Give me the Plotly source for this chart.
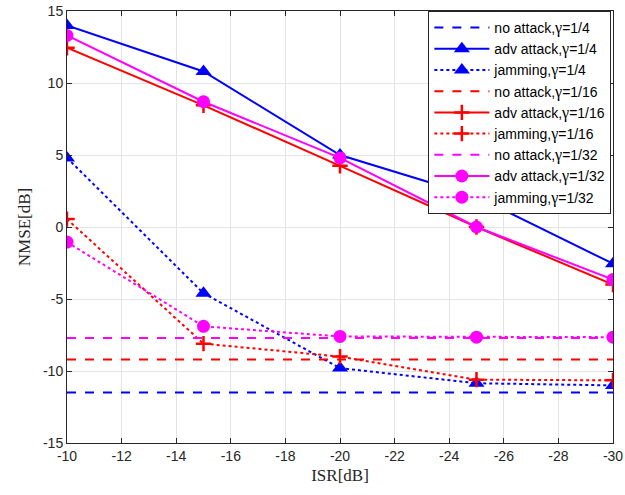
import plotly.graph_objects as go

isr = [-10, -15, -20, -25, -30]

no_attack_4 = [-11.5] * 5
adv_4 = [14.0, 10.8, 5.0, 2.1, -2.55]
jam_4 = [4.8, -4.6, -9.8, -10.85, -11.0]

no_attack_16 = [-9.2] * 5
adv_16 = [12.45, 8.45, 4.25, 0.0, -4.0]
jam_16 = [0.55, -8.1, -9.0, -10.6, -10.65]

no_attack_32 = [-7.7] * 5
adv_32 = [13.3, 8.7, 4.8, 0.0, -3.65]
jam_32 = [-1.05, -6.9, -7.6, -7.65, -7.65]

x_ticks = list(range(-10, -31, -2))
x_tick_labels = [str(v) for v in x_ticks]
y_ticks = list(range(-15, 16, 5))
y_tick_labels = [str(v) for v in y_ticks]

G = "<span style='font-family:\"Liberation Serif\";font-size:16px'>γ</span>"

series = [
    ("no attack," + G + "=1/4", no_attack_4, "blue", "dash", None, 0),
    ("adv attack," + G + "=1/4", adv_4, "blue", "solid", "triangle-up", 14),
    ("jamming," + G + "=1/4", jam_4, "blue", "dot", "triangle-up", 14),
    ("no attack," + G + "=1/16", no_attack_16, "red", "dash", None, 0),
    ("adv attack," + G + "=1/16", adv_16, "red", "solid", "cross-thin", 11),
    ("jamming," + G + "=1/16", jam_16, "red", "dot", "cross-thin", 11),
    ("no attack," + G + "=1/32", no_attack_32, "magenta", "dash", None, 0),
    ("adv attack," + G + "=1/32", adv_32, "magenta", "solid", "circle", 13),
    ("jamming," + G + "=1/32", jam_32, "magenta", "dot", "circle", 13),
]

fig = go.Figure()
for name, ys, col, dash, sym, size in series:
    if sym is None:
        fig.add_trace(go.Scatter(x=isr, y=ys, name=name, mode="lines",
                                 line=dict(color=col, dash=dash, width=2)))
    else:
        fig.add_trace(go.Scatter(x=isr, y=ys, name=name, mode="lines+markers",
                                 line=dict(color=col, dash=dash, width=2),
                                 marker=dict(symbol=sym, size=size, color=col,
                                             line=dict(color=col, width=2.5 if sym == "cross-thin" else 0))))

axis_common = dict(showline=True, linecolor="#262626", linewidth=1, mirror="ticks",
                   ticks="inside", ticklen=5, tickcolor="#262626",
                   showgrid=True, gridcolor="#e3e3e3", gridwidth=1, zeroline=False,
                   ticklabeloverflow="allow",
                   tickfont=dict(family="Liberation Sans, Arial", size=14, color="#262626"))

fig.update_xaxes(range=[-10, -30], tickvals=x_ticks, ticktext=x_tick_labels,
                 title=dict(text="ISR[dB]", standoff=6,
                 font=dict(family="Liberation Serif, Times New Roman", size=17, color="#262626")),
                 **axis_common)
fig.update_yaxes(range=[-15, 15], tickvals=y_ticks, ticktext=y_tick_labels,
                 title=dict(text="NMSE[dB]", standoff=8,
                 font=dict(family="Liberation Serif, Times New Roman", size=17, color="#262626")),
                 **axis_common)

fig.update_layout(
    width=625, height=495,
    margin=dict(l=67, r=12, t=11, b=52, autoexpand=False),
    plot_bgcolor="white", paper_bgcolor="white",
    legend=dict(x=0.997, xanchor="right", y=1, yanchor="top",
                bordercolor="#262626", borderwidth=1, bgcolor="white",
                font=dict(family="Liberation Sans, Arial", size=14, color="black"),
                tracegroupgap=0, itemwidth=55),
)

fig.write_html("out.html", config={"displayModeBar": False},
               post_script="document.body.style.margin='0';document.body.style.overflow='hidden';")
